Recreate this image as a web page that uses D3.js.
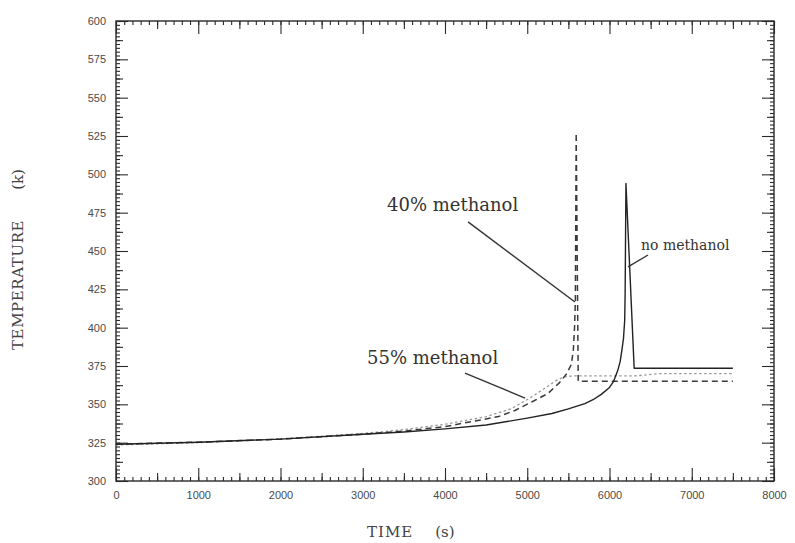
<!DOCTYPE html>
<html>
<head>
<meta charset="utf-8">
<script src="https://cdn.jsdelivr.net/npm/d3@7"></script>
<style>
    body { margin: 0; background: #fff; }
    #tempChart { width: 795px; height: 543px; }
</style>
</head>
<body>
<div id="tempChart"></div>
<script>
{
    /*#########
      Data
    #########*/

    // time (s) and temperature (K)
    const noMethanolTime = [0, 1000, 2000, 3000, 3500, 4000, 4500, 5000, 5300, 5500, 5700, 5800, 5900, 6000, 6050, 6100, 6130, 6150, 6170, 6185, 6190, 6200, 6300, 7500];
    const noMethanolTemp = [324, 325.3, 327.3, 330.5, 332, 334, 336.5, 341, 344, 347, 350.5, 353, 356.5, 361, 365, 372, 378, 385, 393, 405, 422, 494, 373.5, 373.5];

    const m40Time = [0, 1000, 2000, 3000, 3500, 4000, 4650, 4850, 5060, 5250, 5390, 5480, 5535, 5560, 5575, 5585, 5595, 5620, 7500];
    const m40Temp = [324, 325.3, 327.3, 330.5, 332.5, 335.5, 342, 346, 351.7, 357, 364, 370, 376, 385, 400, 418, 527, 365, 365];

    const m55Time = [0, 1000, 2000, 3000, 3500, 4000, 4500, 4800, 5030, 5200, 5350, 5450, 5550, 6300, 6600, 7500];
    const m55Temp = [323.5, 325, 327.5, 331, 333.5, 337, 342, 347, 354, 360, 365.5, 368, 368.5, 368.5, 370, 370];

    // tick labels
    const xTicks = [0, 1000, 2000, 3000, 4000, 5000, 6000, 7000, 8000];
    const yTicks = [300, 325, 350, 375, 400, 425, 450, 475, 500, 525, 550, 575, 600];

    // annotation labels: [text, text t, text T, line t0, T0, t1, T1, size]
    const notes = [
        ["40% methanol", 3295, 476, 4280, 469, 5580, 416.7, 18],
        ["55% methanol", 3052, 376.3, 4243, 370.4, 4973, 354.1, 18],
        ["no methanol", 6383, 450.6, 6225, 439.6, 6468, 447.4, 14]
    ];

    /*#########
      Global
    #########*/

    const margin = { top: 21, right: 21, bottom: 62, left: 116 };
    const width = 795 - margin.left - margin.right;
    const height = 543 - margin.top - margin.bottom;
    const ink = "#2a2a2a";

    const root = d3.select('#tempChart')
        .append('svg')
        .attr('width', 795)
        .attr('height', 543);

    const svg = root.append('g')
        .attr('transform', 'translate(' + margin.left + ',' + margin.top + ')');

    /*############
    Axis Creation
    ############*/

    const x = d3.scaleLinear().domain([0, 8000]).range([0, width]);
    const y = d3.scaleLinear().domain([300, 600]).range([height, 0]);

    // tick levels: values and length, ticks point inward on all four sides
    const xLevels = [
        [d3.range(0, 8001, 100), 4],
        [d3.range(500, 8000, 1000), 8],
        [xTicks, 13]
    ];
    const yLevels = [
        [d3.range(300, 600.1, 2.5), 4],
        [d3.range(312.5, 600, 25), 7],
        [yTicks, 12]
    ];

    xLevels.forEach(lv => {
        svg.append('g')
            .attr('transform', 'translate(0,' + height + ')')
            .call(d3.axisBottom(x).tickValues(lv[0]).tickSize(-lv[1]).tickFormat(''))
            .call(g => g.select('.domain').remove());
        svg.append('g')
            .call(d3.axisTop(x).tickValues(lv[0]).tickSize(-lv[1]).tickFormat(''))
            .call(g => g.select('.domain').remove());
    });
    yLevels.forEach(lv => {
        svg.append('g')
            .call(d3.axisLeft(y).tickValues(lv[0]).tickSize(-lv[1]).tickFormat(''))
            .call(g => g.select('.domain').remove());
        svg.append('g')
            .attr('transform', 'translate(' + width + ',0)')
            .call(d3.axisRight(y).tickValues(lv[0]).tickSize(-lv[1]).tickFormat(''))
            .call(g => g.select('.domain').remove());
    });
    svg.selectAll('.tick line').attr('stroke', ink).attr('stroke-width', 1.1);

    // labels
    svg.append('g')
        .attr('class', 'xlab')
        .attr('transform', 'translate(0,' + height + ')')
        .call(d3.axisBottom(x).tickValues(xTicks).tickSize(0).tickPadding(10).tickFormat(d3.format('d')))
        .call(g => g.select('.domain').remove());
    svg.append('g')
        .attr('class', 'ylab')
        .call(d3.axisLeft(y).tickValues(yTicks).tickSize(0).tickPadding(10).tickFormat(d3.format('d')))
        .call(g => g.select('.domain').remove());
    svg.selectAll('.xlab text, .ylab text')
        .style('font-family', '"Liberation Sans", Arial, sans-serif')
        .style('font-size', '11px')
        .attr('fill', '#4a4a4a');

    // frame
    svg.append('rect')
        .attr('width', width)
        .attr('height', height)
        .attr('fill', 'none')
        .attr('stroke', ink)
        .attr('stroke-width', 1.4);

    // axis titles
    const serif = '"DejaVu Serif", serif';
    const xt = root.append('text')
        .attr('x', 367)
        .attr('y', 537)
        .style('font-family', serif)
        .style('font-size', '15px')
        .attr('fill', '#444');
    xt.append('tspan').text('TIME').attr('letter-spacing', 1);
    xt.append('tspan').attr('dx', 22).text('(s)');

    const yt = root.append('text')
        .attr('transform', 'translate(23,350) rotate(-90)')
        .style('font-family', serif)
        .style('font-size', '15px')
        .attr('fill', '#444');
    yt.append('tspan').text('TEMPERATURE').attr('letter-spacing', 0.6);
    yt.append('tspan').attr('dx', 30).text('(k)');

    /*###########
    Line Creation
    ###########*/

    const line = d3.line()
        .x(d => x(d[0]))
        .y(d => y(d[1]));

    const series = [
        { t: m55Time, v: m55Temp, color: '#9a9a9a', dash: '2.5,2.5', w: 1.3 },
        { t: m40Time, v: m40Temp, color: '#3a3a3a', dash: '6,4', w: 1.5 },
        { t: noMethanolTime, v: noMethanolTemp, color: '#222', dash: null, w: 1.4 }
    ];

    svg.selectAll('.curve')
        .data(series)
        .join('path')
        .attr('class', 'curve')
        .attr('d', s => line(d3.zip(s.t, s.v)))
        .attr('fill', 'none')
        .attr('stroke', s => s.color)
        .attr('stroke-width', s => s.w)
        .attr('stroke-dasharray', s => s.dash)
        .attr('stroke-linejoin', 'round');

    /*#########
    Annotations
    #########*/

    svg.selectAll('.note')
        .data(notes)
        .join('text')
        .attr('class', 'note')
        .attr('x', d => x(d[1]))
        .attr('y', d => y(d[2]))
        .style('font-family', serif)
        .style('font-size', d => d[7] + 'px')
        .attr('fill', '#333')
        .text(d => d[0]);

    svg.selectAll('.leader')
        .data(notes)
        .join('line')
        .attr('class', 'leader')
        .attr('x1', d => x(d[3]))
        .attr('y1', d => y(d[4]))
        .attr('x2', d => x(d[5]))
        .attr('y2', d => y(d[6]))
        .attr('stroke', '#333')
        .attr('stroke-width', 1.4);
}
</script>
</body>
</html>
